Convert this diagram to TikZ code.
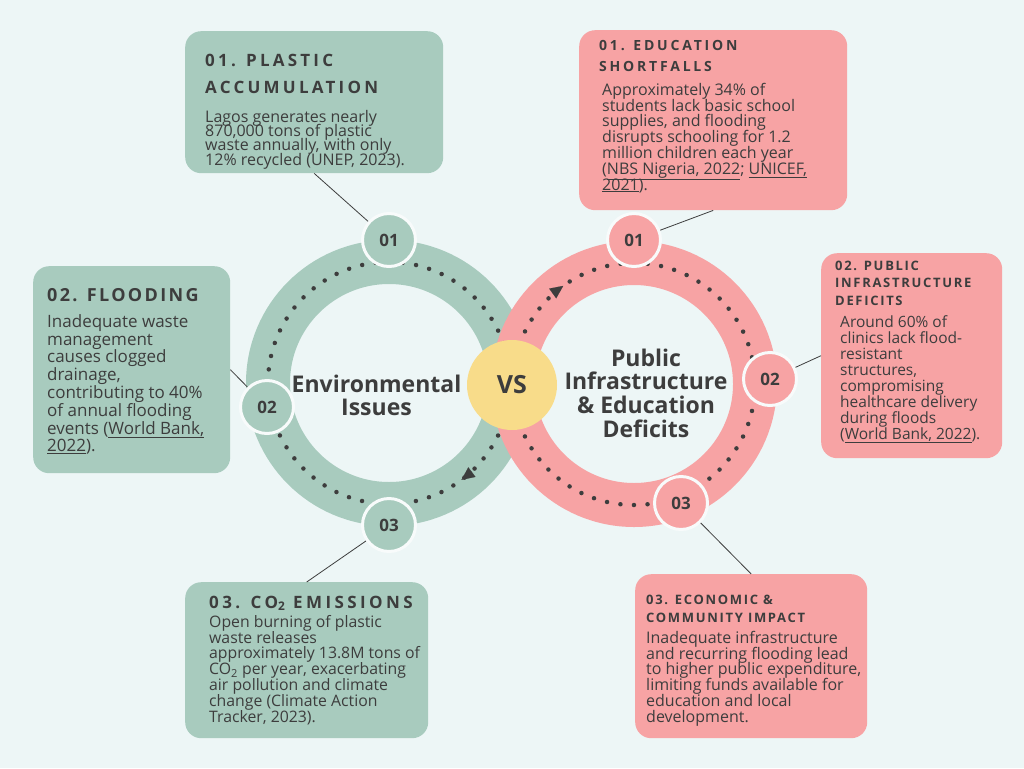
\documentclass[tikz,border=0pt]{standalone}
\usepackage{fontspec}
\setmainfont{Open Sans}
\usetikzlibrary{arrows.meta,positioning}
\definecolor{bgpale}{HTML}{EDF6F6}
\definecolor{ringgreen}{HTML}{A8CBBE}
\definecolor{ringpink}{HTML}{F7A3A4}
\definecolor{vsyellow}{HTML}{F8DC8A}
\definecolor{inkgray}{HTML}{3D3D3D}
\newcommand{\ttlfont}[3]{\fontsize{#1}{#2}\selectfont\bfseries\addfontfeatures{LetterSpace=#3}\lineskiplimit=-100pt}
\newcommand{\bodyfont}[2]{\fontsize{#1}{#2}\selectfont\lineskiplimit=-100pt}
\newcommand{\topgap}{\rule{0pt}{20pt}}

\begin{document}
\begin{tikzpicture}[
    x=1pt, y=-1pt,
    box/.style={rounded corners=16pt, inner sep=0pt, anchor=north west},
    ttl/.style={anchor=north west, inner sep=0pt, align=left, text=inkgray},
    body/.style={anchor=north west, inner sep=0pt, align=left, text=inkgray},
    badge/.style={circle, minimum size=53pt, inner sep=0pt, draw=white!60!bgpale, line width=3pt, font=\fontsize{17}{17}\selectfont\bfseries, text=inkgray},
    link/.style={draw=inkgray, line width=0.8pt},
    dotring/.style={draw=inkgray, line width=4.5pt, line cap=round, dash pattern=on 0pt off 13.58pt},
    tip/.style={draw=inkgray, line width=0.1pt, -{Triangle[length=13pt,width=12pt]}}
]
\useasboundingbox (0,0) rectangle (1024,768);
\fill[bgpale] (0,0) rectangle (1024,768);

% rings
\coordinate (gc) at (389,383);
\coordinate (pc) at (634,384);
\draw[ringgreen, line width=44pt] (gc) circle[radius=121];
\draw[ringpink, line width=44pt] (pc) circle[radius=121];
\draw[dotring] (gc) circle[radius=121];
\draw[dotring] (pc) circle[radius=121];
\draw[tip] ([shift={(47:121)}]gc) arc[start angle=47, end angle=53.2, radius=121];
\draw[tip] ([shift={(228:121)}]pc) arc[start angle=228, end angle=234.2, radius=121];

\node[circle, fill=vsyellow, minimum size=90pt, inner sep=0pt, font=\fontsize{25}{25}\selectfont\bfseries, text=inkgray] (vs) at (512,385) {VS};
\node[anchor=north, align=center, inner sep=0pt, text=inkgray, font=\ttlfont{23}{23.5}{0}] (envlbl) at (376.5,372) {\topgap Environmental\\Issues};
\node[anchor=north, align=center, inner sep=0pt, text=inkgray, font=\ttlfont{23}{23.7}{0}] (publbl) at (646,346) {\topgap Public\\Infrastructure\\\& Education\\Deficits};

% badges
\node[badge, fill=ringgreen] (g1) at (389,240) {01};
\node[badge, fill=ringgreen] (g2) at (267,407) {02};
\node[badge, fill=ringgreen] (g3) at (389,525) {03};
\node[badge, fill=ringpink] (p1) at (634,240) {01};
\node[badge, fill=ringpink] (p2) at (770,379) {02};
\node[badge, fill=ringpink] (p3) at (681,503) {03};

% boxes
\node[box, fill=ringgreen, minimum width=258pt, minimum height=142pt] (gbox1) at (185,31) {};
\node[box, fill=ringgreen, minimum width=197pt, minimum height=207pt] (gbox2) at (33,266) {};
\node[box, fill=ringgreen, minimum width=243pt, minimum height=156pt] (gbox3) at (185,582) {};
\node[box, fill=ringpink, minimum width=268pt, minimum height=180pt] (pbox1) at (579,30) {};
\node[box, fill=ringpink, minimum width=181pt, minimum height=205pt] (pbox2) at (821,253) {};
\node[box, fill=ringpink, minimum width=232pt, minimum height=164pt] (pbox3) at (635,574) {};

\draw[link] (gbox1.south) -- (g1);
\draw[link] (gbox2.east) -- (g2);
\draw[link] (g3) -- (gbox3.north);
\draw[link] (pbox1.south) -- (p1);
\draw[link] (pbox2.west) -- (p2);
\draw[link] (p3) -- (pbox3.north);

% box texts
\node[ttl, font=\ttlfont{17}{27}{19}] (gttl1) at (205,46) {\topgap 01. PLASTIC\\ACCUMULATION};
\node[body, font=\bodyfont{16}{14.3}] (gtxt1) at (205,102) {\topgap Lagos generates nearly\\870,000 tons of plastic\\waste annually, with only\\12\% recycled (UNEP, 2023).};

\node[ttl, font=\ttlfont{18}{18}{13}] (gttl2) at (47,281) {\topgap 02. FLOODING};
\node[body, font=\bodyfont{17}{17.8}] (gtxt2) at (47,307) {\topgap Inadequate waste\\management\\causes clogged\\drainage,\\contributing to 40\%\\of annual flooding\\events (\underline{World Bank,}\\\underline{2022}).};

\node[ttl, font=\ttlfont{17}{17}{20}] (gttl3) at (209,588) {\topgap 03. CO\textsubscript{2} EMISSIONS};
\node[body, font=\bodyfont{15.8}{15.8}] (gtxt3) at (209,607) {\topgap Open burning of plastic\\waste releases\\approximately 13.8M tons of\\CO\textsubscript{2} per year, exacerbating\\air pollution and climate\\change (Climate Action\\Tracker, 2023).};

\node[ttl, font=\ttlfont{14}{21}{20}] (pttl1) at (599,30) {\topgap 01. EDUCATION\\SHORTFALLS};
\node[body, font=\bodyfont{16}{15.8}] (ptxt1) at (602,75) {\topgap Approximately 34\% of\\students lack basic school\\supplies, and flooding\\disrupts schooling for 1.2\\million children each year\\(\underline{NBS Nigeria, 2022}; \underline{UNICEF,}\\\underline{2021}).};

\node[ttl, font=\ttlfont{13}{17.5}{13}] (pttl2) at (835,250) {\topgap 02. PUBLIC\\INFRASTRUCTURE\\DEFICITS};
\node[body, font=\bodyfont{15.5}{16}] (ptxt2) at (840,307) {\topgap Around 60\% of\\clinics lack flood-\\resistant\\structures,\\compromising\\healthcare delivery\\during floods\\(\underline{World Bank, 2022}).};

\node[ttl, font=\ttlfont{13}{18}{13}] (pttl3) at (646,584) {\topgap 03. ECONOMIC \&\\COMMUNITY IMPACT};
\node[body, font=\bodyfont{16}{15.8}] (ptxt3) at (646,623) {\topgap Inadequate infrastructure\\and recurring flooding lead\\to higher public expenditure,\\limiting funds available for\\education and local\\development.};
\end{tikzpicture}
\end{document}
